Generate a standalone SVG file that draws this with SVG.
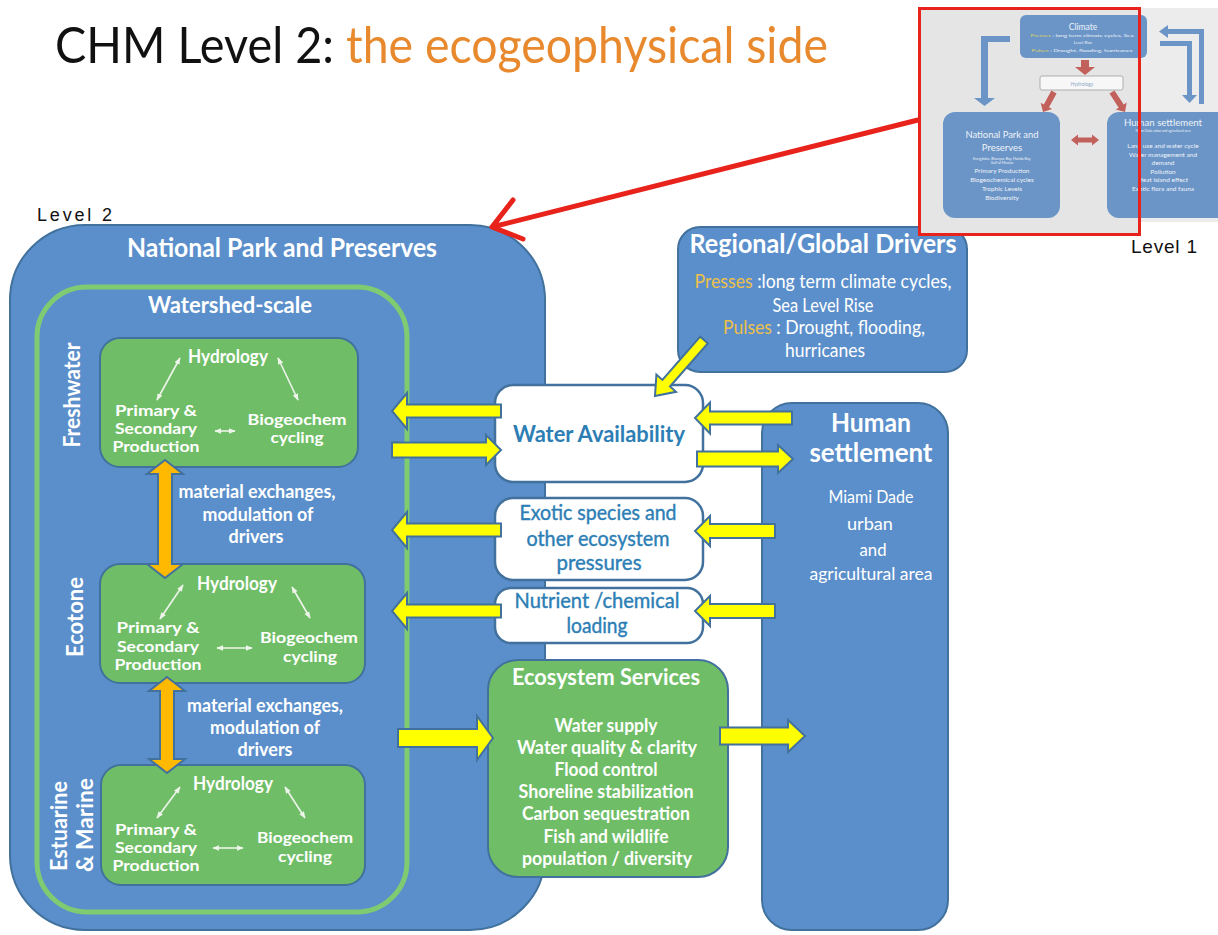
<svg xmlns="http://www.w3.org/2000/svg" width="1218" height="935" viewBox="0 0 1218 935">
<style>
.f{font-family:Lato,"Open Sans","Liberation Sans",sans-serif;}
.a{font-family:"Liberation Sans",Arial,sans-serif;fill:#111;}
.wb{fill:#fff;font-weight:700;}
.wr{fill:#fff;}
.m{text-anchor:middle;}
.bl{fill:#2C7EB5;}
.blue{fill:#5B8FCB;stroke:#41719C;stroke-width:2;}
.green{fill:#6FBE67;stroke:#41719C;stroke-width:2;}
.wbox{fill:#fff;stroke:#41719C;stroke-width:2.5;}
.ya{fill:#FFFF00;stroke:#41719C;stroke-width:2;stroke-linejoin:miter;}
.oa{fill:#FFB900;stroke:#41719C;stroke-width:2;}
.sa{stroke:#EEF4EA;stroke-width:1.6;fill:none;marker-start:url(#sh);marker-end:url(#sh);}
.tb{fill:#6B95C7;}
.tt{fill:#EEF3F9;}
.tr{fill:#C2605B;}
.gold{fill:#EDC04A;}
</style>
<defs>
<marker id="sh" viewBox="0 0 10 10" refX="9" refY="5" markerWidth="7" markerHeight="7" markerUnits="userSpaceOnUse" orient="auto-start-reverse">
<path d="M0,1 L10,5 L0,9 z" fill="#EEF4EA"/>
</marker>
</defs>
<rect width="1218" height="935" fill="#fff"/>

<g id="title">
<text class="f" x="55" y="63" font-size="50" fill="#111" textLength="279" lengthAdjust="spacingAndGlyphs">CHM Level 2:</text>
<text class="f" x="346" y="63" font-size="50" fill="#E8892E" textLength="482" lengthAdjust="spacingAndGlyphs">the ecogeophysical side</text>
</g>

<g id="level2-label">
<text class="a" x="37" y="221" font-size="18" textLength="75">Level 2</text>
</g>
<g id="level1-label">
<text class="a" x="1131" y="253" font-size="19" textLength="66">Level 1</text>
</g>

<g id="national-park">
<rect class="blue" x="10" y="225" width="535" height="705" rx="75"/>
<text class="f wb m" x="282" y="257" font-size="26" textLength="310" lengthAdjust="spacingAndGlyphs">National Park and Preserves</text>
</g>

<g id="watershed">
<rect x="37" y="287" width="370" height="625" rx="50" fill="none" stroke="#7ECB72" stroke-width="5"/>
<text class="f wb m" x="230" y="313" font-size="23" textLength="164" lengthAdjust="spacingAndGlyphs">Watershed-scale</text>
</g>

<g id="freshwater">
<rect class="green" x="100" y="338" width="258" height="129" rx="20"/>
<text class="f wb m" transform="translate(80,395) rotate(-90)" font-size="23" textLength="105" lengthAdjust="spacingAndGlyphs">Freshwater</text>
<text class="f wb m" x="228" y="363" font-size="18" textLength="80" lengthAdjust="spacingAndGlyphs">Hydrology</text>
<text class="f wb m" x="156" y="416" font-size="16" textLength="82" lengthAdjust="spacingAndGlyphs">Primary &amp;</text>
<text class="f wb m" x="156" y="434" font-size="16" textLength="82" lengthAdjust="spacingAndGlyphs">Secondary</text>
<text class="f wb m" x="156" y="452" font-size="16" textLength="87" lengthAdjust="spacingAndGlyphs">Production</text>
<text class="f wb m" x="297" y="425" font-size="16" textLength="99" lengthAdjust="spacingAndGlyphs">Biogeochem</text>
<text class="f wb m" x="297" y="443" font-size="16" textLength="53" lengthAdjust="spacingAndGlyphs">cycling</text>
</g>

<g id="exchange-label-1">
<text class="f wb m" x="257" y="498" font-size="18" textLength="157" lengthAdjust="spacingAndGlyphs">material exchanges,</text>
<text class="f wb m" x="258" y="521" font-size="18" textLength="111" lengthAdjust="spacingAndGlyphs">modulation of</text>
<text class="f wb m" x="256" y="543" font-size="18" textLength="55" lengthAdjust="spacingAndGlyphs">drivers</text>
</g>

<g id="ecotone">
<rect class="green" x="100" y="564" width="265" height="119" rx="20"/>
<text class="f wb m" transform="translate(83,617) rotate(-90)" font-size="23" textLength="80" lengthAdjust="spacingAndGlyphs">Ecotone</text>
<text class="f wb m" x="237" y="590" font-size="18" textLength="80" lengthAdjust="spacingAndGlyphs">Hydrology</text>
<text class="f wb m" x="158" y="633" font-size="16" textLength="83" lengthAdjust="spacingAndGlyphs">Primary &amp;</text>
<text class="f wb m" x="158" y="652" font-size="16" textLength="82" lengthAdjust="spacingAndGlyphs">Secondary</text>
<text class="f wb m" x="158" y="670" font-size="16" textLength="87" lengthAdjust="spacingAndGlyphs">Production</text>
<text class="f wb m" x="309" y="643" font-size="16" textLength="98" lengthAdjust="spacingAndGlyphs">Biogeochem</text>
<text class="f wb m" x="310" y="662" font-size="16" textLength="54" lengthAdjust="spacingAndGlyphs">cycling</text>
</g>

<g id="exchange-label-2">
<text class="f wb m" x="265" y="712" font-size="18" textLength="156" lengthAdjust="spacingAndGlyphs">material exchanges,</text>
<text class="f wb m" x="265" y="734" font-size="18" textLength="110" lengthAdjust="spacingAndGlyphs">modulation of</text>
<text class="f wb m" x="265" y="756" font-size="18" textLength="55" lengthAdjust="spacingAndGlyphs">drivers</text>
</g>

<g id="estuarine-marine">
<rect class="green" x="101" y="765" width="264" height="120" rx="20"/>
<text class="f wb m" transform="translate(67,826) rotate(-90)" font-size="23" textLength="90" lengthAdjust="spacingAndGlyphs">Estuarine</text>
<text class="f wb m" transform="translate(93,825) rotate(-90)" font-size="23" textLength="94" lengthAdjust="spacingAndGlyphs">&amp; Marine</text>
<text class="f wb m" x="233" y="790" font-size="18" textLength="80" lengthAdjust="spacingAndGlyphs">Hydrology</text>
<text class="f wb m" x="156" y="835" font-size="16" textLength="82" lengthAdjust="spacingAndGlyphs">Primary &amp;</text>
<text class="f wb m" x="156" y="853" font-size="16" textLength="82" lengthAdjust="spacingAndGlyphs">Secondary</text>
<text class="f wb m" x="156" y="871" font-size="16" textLength="87" lengthAdjust="spacingAndGlyphs">Production</text>
<text class="f wb m" x="305" y="843" font-size="16" textLength="96" lengthAdjust="spacingAndGlyphs">Biogeochem</text>
<text class="f wb m" x="305" y="862" font-size="16" textLength="54" lengthAdjust="spacingAndGlyphs">cycling</text>
</g>

<g id="water-availability">
<rect class="wbox" x="495" y="385" width="208" height="97" rx="18"/>
<text class="f bl m" x="599" y="442" font-size="22" font-weight="700" textLength="172" lengthAdjust="spacingAndGlyphs">Water Availability</text>
</g>

<g id="exotic-species">
<rect class="wbox" x="495" y="498" width="208" height="82" rx="18"/>
<text class="f bl m" x="598" y="520" font-size="21" textLength="157" lengthAdjust="spacingAndGlyphs" stroke="#2C7EB5" stroke-width="0.4">Exotic species and</text>
<text class="f bl m" x="598" y="546" font-size="21" textLength="143" lengthAdjust="spacingAndGlyphs" stroke="#2C7EB5" stroke-width="0.4">other ecosystem</text>
<text class="f bl m" x="599" y="570" font-size="21" textLength="85" lengthAdjust="spacingAndGlyphs" stroke="#2C7EB5" stroke-width="0.4">pressures</text>
</g>

<g id="nutrient-loading">
<rect class="wbox" x="495" y="588" width="208" height="55" rx="16"/>
<text class="f bl m" x="597" y="608" font-size="21" textLength="165" lengthAdjust="spacingAndGlyphs" stroke="#2C7EB5" stroke-width="0.4">Nutrient /chemical</text>
<text class="f bl m" x="597" y="633" font-size="21" textLength="61" lengthAdjust="spacingAndGlyphs" stroke="#2C7EB5" stroke-width="0.4">loading</text>
</g>

<g id="ecosystem-services">
<rect class="green" x="488" y="660" width="240" height="217" rx="30"/>
<text class="f wb m" x="606" y="685" font-size="23.5" textLength="188" lengthAdjust="spacingAndGlyphs">Ecosystem Services</text>
<text class="f wb m" x="606" y="732" font-size="18" textLength="103" lengthAdjust="spacingAndGlyphs">Water supply</text>
<text class="f wb m" x="607" y="754" font-size="18" textLength="180" lengthAdjust="spacingAndGlyphs">Water quality  &amp; clarity</text>
<text class="f wb m" x="606" y="776" font-size="18" textLength="103" lengthAdjust="spacingAndGlyphs">Flood control</text>
<text class="f wb m" x="606" y="798" font-size="18" textLength="175" lengthAdjust="spacingAndGlyphs">Shoreline stabilization</text>
<text class="f wb m" x="606" y="820" font-size="18" textLength="168" lengthAdjust="spacingAndGlyphs">Carbon sequestration</text>
<text class="f wb m" x="606" y="843" font-size="18" textLength="125" lengthAdjust="spacingAndGlyphs">Fish and wildlife</text>
<text class="f wb m" x="607" y="865" font-size="18" textLength="170" lengthAdjust="spacingAndGlyphs">population / diversity</text>
</g>

<g id="regional-global-drivers">
<rect class="blue" x="678" y="227" width="289" height="145" rx="22"/>
<text class="f wb m" x="823" y="253" font-size="27" textLength="267" lengthAdjust="spacingAndGlyphs">Regional/Global Drivers</text>
<text class="f wr m" x="823" y="288" font-size="18.5" textLength="257" lengthAdjust="spacingAndGlyphs"><tspan class="gold">Presses</tspan> :long term climate cycles,</text>
<text class="f wr m" x="823" y="312" font-size="18.5" textLength="101" lengthAdjust="spacingAndGlyphs">Sea Level Rise</text>
<text class="f wr m" x="824" y="334" font-size="18.5" textLength="202" lengthAdjust="spacingAndGlyphs"><tspan class="gold">Pulses</tspan> : Drought, flooding,</text>
<text class="f wr m" x="825" y="357" font-size="18.5" textLength="80" lengthAdjust="spacingAndGlyphs">hurricanes</text>
</g>

<g id="human-settlement">
<rect class="blue" x="762" y="403" width="186" height="527" rx="30"/>
<text class="f wb m" x="871" y="432" font-size="27" textLength="80" lengthAdjust="spacingAndGlyphs">Human</text>
<text class="f wb m" x="871" y="462" font-size="27" textLength="123" lengthAdjust="spacingAndGlyphs">settlement</text>
<text class="f wr m" x="871" y="503" font-size="18" textLength="85" lengthAdjust="spacingAndGlyphs">Miami Dade</text>
<text class="f wr m" x="870" y="530" font-size="18" textLength="46" lengthAdjust="spacingAndGlyphs">urban</text>
<text class="f wr m" x="873" y="556" font-size="18" textLength="27" lengthAdjust="spacingAndGlyphs">and</text>
<text class="f wr m" x="871" y="580" font-size="18" textLength="123" lengthAdjust="spacingAndGlyphs">agricultural area</text>
</g>

<g id="level1-thumbnail">
<rect x="918" y="8" width="300" height="214" fill="#ECECEC"/>
<rect x="918" y="8" width="222" height="227" fill="#E5E5E5"/>
<polygon class="tb" points="1010,36 1010,42 988,42 988,98 995,98 984.5,106 974,98 981,98 981,36"/>
<polygon class="tb" points="1204,104 1199,104 1199,34 1168,34 1168,38 1159,31.5 1168,25 1168,29 1204,29"/>
<polygon class="tb" points="1160,41 1192,41 1192,95 1197,95 1189.5,103 1182,95 1187,95 1187,46 1160,46"/>
<rect class="tb" x="1020" y="15" width="127" height="43" rx="6"/>
<text class="f tt m" x="1083" y="30" font-size="8.5">Climate</text>
<text class="f tt m" x="1082" y="37" font-size="4.3" textLength="103" lengthAdjust="spacingAndGlyphs"><tspan fill="#D8D060">Presses</tspan> : long term climate cycles, Sea</text>
<text class="f tt m" x="1083" y="44" font-size="4.3">Level Rise</text>
<text class="f tt m" x="1082" y="52" font-size="4.3" textLength="101" lengthAdjust="spacingAndGlyphs"><tspan fill="#D8D060">Pulses</tspan> : Drought, flooding, hurricanes</text>
<polygon class="tr" points="1081,60 1089,60 1089,67 1095,67 1085,75 1075,67 1081,67"/>
<rect x="1040" y="76" width="83" height="14" rx="2" fill="#F7F7F7" stroke="#A0A0A0" stroke-width="0.8"/>
<text class="f m" x="1082" y="85.5" font-size="5" fill="#8FA8C8">Hydrology</text>
<polygon class="tr" points="1056.6,93.4 1049,107.3 1052.1,109 1043,112 1040.7,102.8 1043.8,104.5 1051.4,90.6"/>
<polygon class="tr" points="1114.5,90.4 1123.7,104.5 1126.7,102.6 1125,112 1115.7,109.6 1118.7,107.7 1109.5,93.6"/>
<rect class="tb" x="943" y="112" width="117" height="106" rx="12"/>
<text class="f tt m" x="1002" y="138" font-size="9.5" textLength="73" lengthAdjust="spacingAndGlyphs">National Park and</text>
<text class="f tt m" x="1002" y="151" font-size="9.5">Preserves</text>
<text class="f tt m" x="1002" y="159.5" font-size="3.5">Everglades, Biscayne Bay, Florida Bay,</text>
<text class="f tt m" x="1002" y="164" font-size="3.5">Gulf of Mexico</text>
<text class="f tt m" x="1002" y="173" font-size="6.5">Primary Production</text>
<text class="f tt m" x="1002" y="182" font-size="6.5">Biogeochemical cycles</text>
<text class="f tt m" x="1002" y="191" font-size="6.5">Trophic Levels</text>
<text class="f tt m" x="1002" y="199.5" font-size="6.5">Biodiversity</text>
<polygon class="tr" points="1071,140 1078,134.5 1078,137.5 1092,137.5 1092,134.5 1099,140 1092,145.5 1092,142.5 1078,142.5 1078,145.5"/>
<rect class="tb" x="1107" y="112" width="130" height="106" rx="12"/>
<text class="f tt m" x="1163" y="126" font-size="9.5" textLength="78" lengthAdjust="spacingAndGlyphs">Human settlement</text>
<text class="f tt m" x="1163" y="132" font-size="3.2">Miami Dade urban and agricultural area</text>
<text class="f tt m" x="1163" y="148" font-size="6.5">Land use and water cycle</text>
<text class="f tt m" x="1163" y="156.5" font-size="6.5">Water management and</text>
<text class="f tt m" x="1163" y="165" font-size="6.5">demand</text>
<text class="f tt m" x="1163" y="173.5" font-size="6.5">Pollution</text>
<text class="f tt m" x="1163" y="182" font-size="6.5">Heat island effect</text>
<text class="f tt m" x="1163" y="191" font-size="6.5">Exotic flora and fauna</text>
<rect x="919.5" y="8.5" width="220" height="226" fill="none" stroke="#E8231C" stroke-width="3"/>
</g>

<g id="connectors">
<polygon class="ya" points="501,404.5 407,404.5 407,393 392,411 407,429 407,417.5 501,417.5"/>
<polygon class="ya" points="392,442.5 486,442.5 486,435 501,450 486,465 486,457.5 392,457.5"/>
<polygon class="ya" points="501,523.5 407,523.5 407,512 392,530 407,548 407,536.5 501,536.5"/>
<polygon class="ya" points="501,604.5 407,604.5 407,593 392,611 407,629 407,617.5 501,617.5"/>
<polygon class="ya" points="398,729 477,729 477,716 493,738 477,760 477,747 398,747"/>
<polygon class="ya" points="792,411.5 710,411.5 710,402.5 695,418 710,433.5 710,424.5 792,424.5"/>
<polygon class="ya" points="697,451.5 778,451.5 778,445 793,459 778,473 778,466.5 697,466.5"/>
<polygon class="ya" points="775,524 710,524 710,516 695,531 710,546 710,538 775,538"/>
<polygon class="ya" points="775,604 710,604 710,596 695,611 710,626 710,618 775,618"/>
<polygon class="ya" points="720,727.5 788,727.5 788,720 805,736 788,752 788,744.5 720,744.5"/>
<polygon class="ya" points="707.8,343.3 670,386.5 676,391.8 655,396 656.4,374.6 662.4,379.9 700.2,336.7"/>
<polygon class="oa" points="165,460 183,474 172,474 172,564 183,564 165,578 147,564 158,564 158,474 147,474"/>
<polygon class="oa" points="167,677 185,691 174,691 174,759 185,759 167,773 149,759 160,759 160,691 149,691"/>
<line class="sa" x1="180" y1="358" x2="157" y2="400"/>
<line class="sa" x1="278" y1="358" x2="298" y2="400"/>
<line class="sa" x1="215" y1="431" x2="235" y2="431"/>
<line class="sa" x1="183" y1="585" x2="160" y2="619"/>
<line class="sa" x1="292" y1="587" x2="310" y2="618"/>
<line class="sa" x1="217" y1="648" x2="252" y2="648"/>
<line class="sa" x1="180" y1="787" x2="157" y2="818"/>
<line class="sa" x1="285" y1="787" x2="305" y2="818"/>
<line class="sa" x1="213" y1="848" x2="243" y2="848"/>
<path d="M918,120 L492,227 M513,200 L492,227 L523,239" fill="none" stroke="#E8231C" stroke-width="5" stroke-linecap="round" stroke-linejoin="round"/>
</g>
</svg>
